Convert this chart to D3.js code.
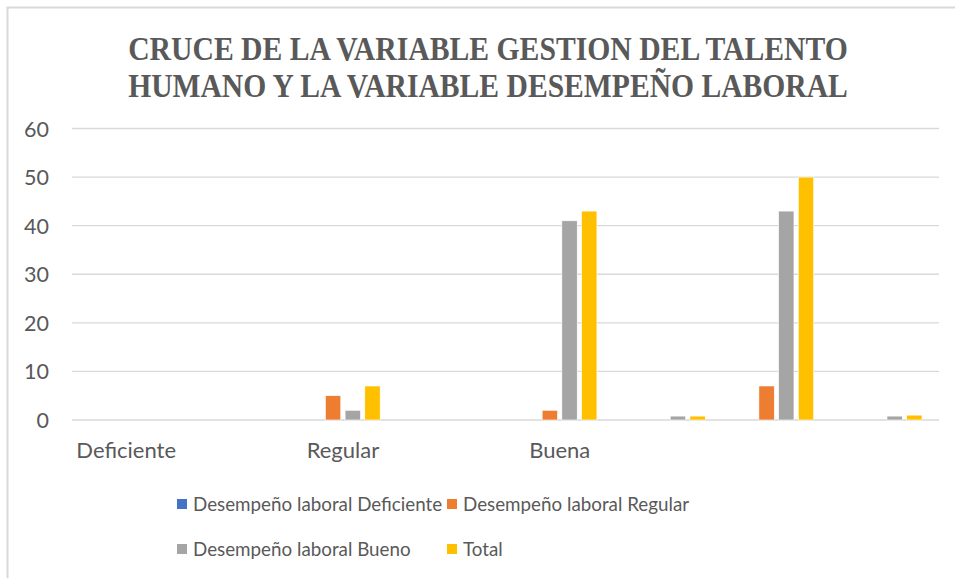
<!DOCTYPE html>
<html>
<head>
<meta charset="utf-8">
<script src="https://cdn.jsdelivr.net/npm/d3@7"></script>
<style>
  html, body { margin: 0; padding: 0; background: #fff; }
  svg { display: block; }
</style>
</head>
<body>
<svg id="chart" width="955" height="578"></svg>
<script>
// ---- data ----
const categories = ["c1", "c2", "c3", "c4", "c5", "c6", "c7", "c8"];
const categoryLabels = ["Deficiente", "", "Regular", "", "Buena", "", "", ""];
const seriesNames = ["Desempeño laboral Deficiente", "Desempeño laboral Regular", "Desempeño laboral Bueno", "Total"];
const serDeficiente = [0, 0, 0, 0, 0, 0, 0, 0];
const serRegular    = [0, 0, 5, 0, 2, 0, 7, 0];
const serBueno      = [0, 0, 2, 0, 41, 0.8, 43, 0.8];
const serTotal      = [0, 0, 7, 0, 43, 0.8, 50, 1];
const yTicks = [0, 10, 20, 30, 40, 50, 60];
const titleLines = ["CRUCE DE LA VARIABLE GESTION DEL TALENTO", "HUMANO Y LA VARIABLE DESEMPEÑO LABORAL"];
const colors = ["#4472C4", "#ED7D31", "#A5A5A5", "#FFC000"];

const seriesValues = [serDeficiente, serRegular, serBueno, serTotal];

const svg = d3.select("#chart");
const textColor = "#595959";
const font = "Lato, 'Open Sans', sans-serif";

// chart border
svg.append("rect")
  .attr("x", 7.5).attr("y", 7.5)
  .attr("width", 960).attr("height", 590)
  .attr("fill", "none").attr("stroke", "#d9d9d9").attr("stroke-width", 2);

// title (horizontally condensed to the reference width)
const titleWidth = 720, titleCx = 488;
svg.append("g").selectAll("text").data(titleLines).join("text")
  .attr("x", 0).attr("y", 0)
  .attr("text-anchor", "middle")
  .attr("font-family", "'Liberation Serif', 'Times New Roman', serif")
  .attr("font-weight", "bold")
  .attr("font-size", 34.5)
  .attr("fill", textColor)
  .text(d => d)
  .each(function(d, i) {
    const w = this.getComputedTextLength();
    const sx = Math.min(1, titleWidth / w);
    d3.select(this).attr("transform", `translate(${titleCx},${60 + i * 37}) scale(${sx},1)`);
  });

// scales
const plotLeft = 72, plotRight = 939, plotTop = 128.5, plotBottom = 420;
const x0 = d3.scaleBand().domain(categories).range([plotLeft, plotRight]).padding(0);
const groupPad = 14.8;
const x1 = d3.scaleBand().domain(d3.range(seriesNames.length))
  .range([groupPad, x0.bandwidth() - groupPad]).paddingInner(0.22).paddingOuter(0.11);
const y = d3.scaleLinear().domain([0, 60]).range([plotBottom, plotTop]);

// gridlines
svg.append("g").selectAll("line").data(yTicks).join("line")
  .attr("x1", plotLeft).attr("x2", plotRight)
  .attr("y1", d => y(d)).attr("y2", d => y(d))
  .attr("stroke", "#d9d9d9").attr("stroke-width", 1.3);

// y axis labels
const yAxis = d3.axisLeft(y).tickValues(yTicks).tickSize(0).tickPadding(0);
const gy = svg.append("g").attr("transform", `translate(49,0)`).call(yAxis);
gy.select(".domain").remove();
gy.selectAll("text")
  .attr("font-family", font).attr("font-size", 21.5).attr("fill", textColor)
  .attr("dy", "0.35em");

// x axis labels
const xAxis = d3.axisBottom(x0).tickSize(0).tickPadding(0)
  .tickFormat((d, i) => categoryLabels[i]);
const gx = svg.append("g").attr("transform", `translate(0,${plotBottom})`).call(xAxis);
gx.select(".domain").remove();
gx.selectAll("text")
  .attr("font-family", font).attr("font-size", 22).attr("fill", textColor)
  .attr("y", 30).attr("dy", "0.35em");

// bars
const groups = svg.append("g").selectAll("g").data(categories).join("g")
  .attr("transform", d => `translate(${x0(d)},0)`);
groups.selectAll("rect")
  .data((d, ci) => seriesValues.map((s, si) => ({ si, v: s[ci] })))
  .join("rect")
  .filter(d => d.v > 0)
  .attr("x", d => x1(d.si))
  .attr("width", x1.bandwidth())
  .attr("y", d => y(d.v))
  .attr("height", d => y(0) - y(d.v))
  .attr("fill", d => colors[d.si])
  .attr("stroke", "#fff").attr("stroke-width", 0.6);

// legend
const legendPos = [[177, 504], [447, 504], [177, 549], [447, 549]];
const lg = svg.append("g").selectAll("g").data(seriesNames).join("g")
  .attr("transform", (d, i) => `translate(${legendPos[i][0]},${legendPos[i][1]})`);
lg.append("rect").attr("x", 0).attr("y", -5).attr("width", 10).attr("height", 10)
  .attr("fill", (d, i) => colors[i]);
lg.append("text").attr("x", 16).attr("dy", "0.35em")
  .attr("font-family", font).attr("font-size", 18.8).attr("fill", textColor)
  .text(d => d);
</script>
</body>
</html>
